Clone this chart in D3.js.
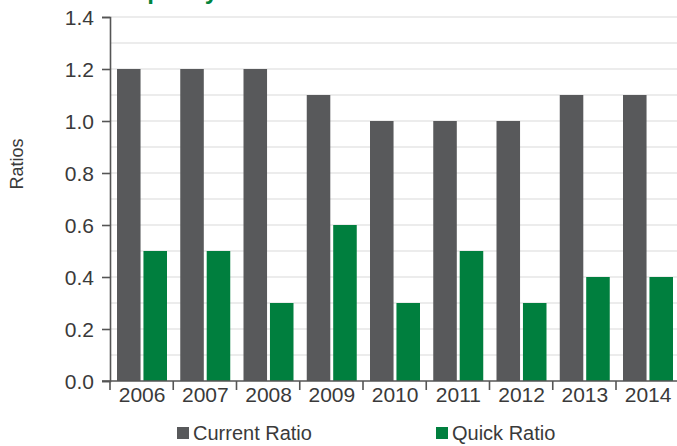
<!DOCTYPE html>
<html>
<head>
<meta charset="utf-8">
<script src="https://cdn.jsdelivr.net/npm/d3@7/dist/d3.min.js"></script>
<style>
  html, body { margin: 0; padding: 0; background: #fff; }
  svg { display: block; }
  text { font-family: "Liberation Sans Narrow", "Liberation Sans", sans-serif; fill: #3a3a3a; }
</style>
</head>
<body>
<svg id="chart" width="677" height="446"></svg>
<script>
// Liquidity ratios by year
const years = ["2006", "2007", "2008", "2009", "2010", "2011", "2012", "2013", "2014"];
const currentRatio = [1.2, 1.2, 1.2, 1.1, 1.0, 1.0, 1.0, 1.1, 1.1];
const quickRatio = [0.5, 0.5, 0.3, 0.6, 0.3, 0.5, 0.3, 0.4, 0.4];
const seriesNames = ["Current Ratio", "Quick Ratio"];
const seriesColors = ["#58595b", "#007f3e"];
const yTicks = [0.0, 0.2, 0.4, 0.6, 0.8, 1.0, 1.2, 1.4];
const gridValues = [0.1, 0.2, 0.3, 0.4, 0.5, 0.6, 0.7, 0.8, 0.9, 1.0, 1.1, 1.2, 1.3, 1.4];

const svg = d3.select("#chart");
const plotLeft = 110, plotRight = 679.25, plotTop = 17, plotBottom = 381;

const x0 = d3.scaleBand().domain(years).range([plotLeft, plotRight]).padding(0);
const x1 = d3.scaleBand().domain(seriesNames).range([7, 57]).paddingInner(0.11).paddingOuter(0);
const y = d3.scaleLinear().domain([0, 1.4]).range([plotBottom, plotTop]);

// title, mostly above the top edge of the canvas
svg.append("text")
  .attr("x", 118).attr("y", -1)
  .style("font-family", "'Liberation Sans', sans-serif")
  .style("font-weight", "bold")
  .style("font-size", "24px")
  .style("fill", "#00843d")
  .text("Liquidity");

// gridlines
svg.append("g").selectAll("line").data(gridValues).join("line")
  .attr("x1", plotLeft).attr("x2", 677)
  .attr("y1", d => y(d)).attr("y2", d => y(d))
  .attr("stroke", "#e6e6e6").attr("stroke-width", 1.5);

// bars
const rows = years.map((yr, i) => ({ year: yr, values: [currentRatio[i], quickRatio[i]] }));
const groups = svg.append("g").selectAll("g").data(rows).join("g")
  .attr("transform", d => `translate(${x0(d.year)},0)`);
groups.selectAll("rect")
  .data(d => d.values.map((v, k) => ({ name: seriesNames[k], value: v, color: seriesColors[k] })))
  .join("rect")
  .attr("x", d => x1(d.name))
  .attr("width", x1.bandwidth())
  .attr("y", d => y(d.value))
  .attr("height", d => y(0) - y(d.value))
  .attr("fill", d => d.color);

// y axis
const yAxis = svg.append("g").attr("transform", `translate(${plotLeft},0)`)
  .call(d3.axisLeft(y).tickValues(yTicks).tickFormat(d3.format(".1f")).tickSize(8).tickPadding(8));
yAxis.select(".domain").attr("stroke", "#555").attr("stroke-width", 1.6);
yAxis.selectAll(".tick line").attr("stroke", "#555").attr("stroke-width", 1.6);
yAxis.selectAll(".tick text").style("font-size", "21px").attr("fill", "#3a3a3a")
  .style("font-family", "'Liberation Sans Narrow', sans-serif").attr("dy", "0.35em");

// x axis: ticks at category boundaries
const xg = svg.append("g");
xg.append("line").attr("x1", plotLeft - 8).attr("x2", 677).attr("y1", plotBottom).attr("y2", plotBottom)
  .attr("stroke", "#555").attr("stroke-width", 1.6);
xg.selectAll("line.b").data(years).join("line").attr("class", "b")
  .attr("x1", d => x0(d)).attr("x2", d => x0(d))
  .attr("y1", plotBottom).attr("y2", plotBottom + 9)
  .attr("stroke", "#555").attr("stroke-width", 1.6);
xg.selectAll("text").data(years).join("text")
  .attr("x", d => x0(d) + x0.bandwidth() / 2 + 0.5)
  .attr("y", plotBottom + 21)
  .attr("text-anchor", "middle")
  .style("font-size", "21px")
  .text(d => d);

// y axis title
svg.append("text")
  .attr("transform", "translate(23,164) rotate(-90)")
  .attr("text-anchor", "middle")
  .style("font-family", "'Liberation Sans', sans-serif")
  .style("font-size", "18px")
  .text("Ratios");

// legend
const legendX = [177, 436];
const legend = svg.append("g").selectAll("g").data(seriesNames).join("g")
  .attr("transform", (d, i) => `translate(${legendX[i]},427)`);
legend.append("rect").attr("width", 12).attr("height", 12).attr("fill", (d, i) => seriesColors[i]);
legend.append("text").attr("x", 16).attr("y", 13).style("font-size", "20px").text(d => d);
</script>
</body>
</html>
